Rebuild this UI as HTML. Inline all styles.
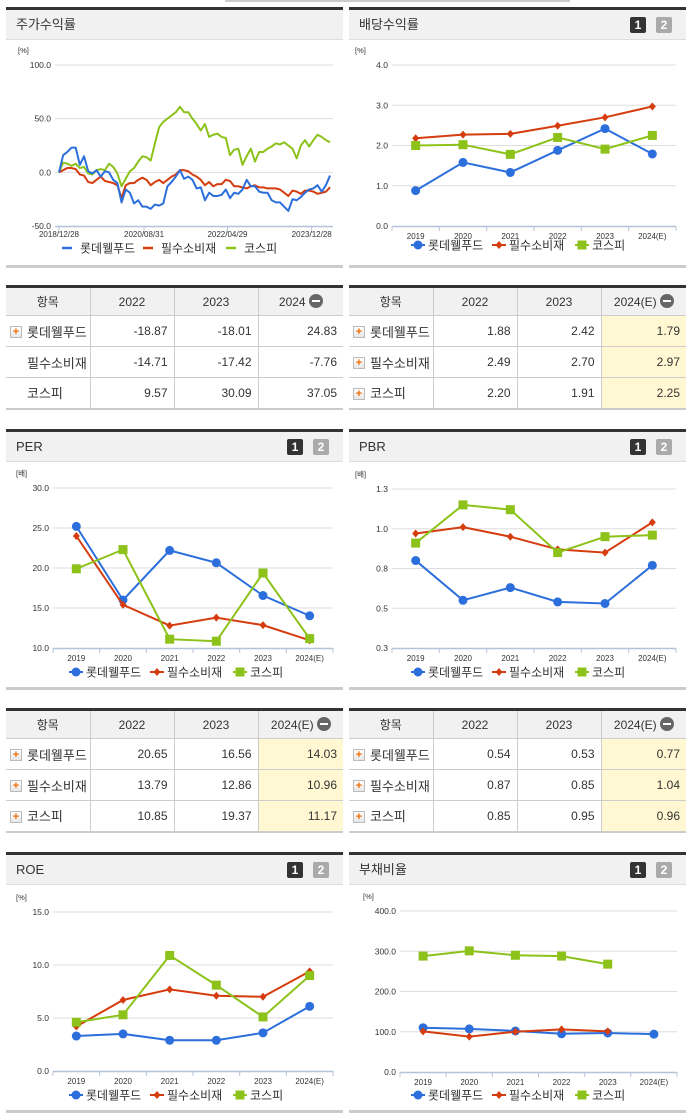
<!DOCTYPE html>
<html><head><meta charset="utf-8">
<style>
*{margin:0;padding:0;box-sizing:border-box}
body{width:691px;height:1115px;background:#fff;position:relative;overflow:hidden;font-family:"Liberation Sans","Noto Sans CJK KR",sans-serif;color:#333}
.panel{position:absolute;width:337px;border-top:3px solid #333;border-bottom:3px solid #ccc}
.hdr{position:absolute;left:0;top:0;width:100%;height:30px;background:#f1f1f1;border-bottom:1px solid #ddd;font-size:13px;line-height:30px;padding-left:10px;color:#333}
.b1,.b2{position:absolute;top:7px;width:16px;height:16px;border-radius:2px;color:#fff;font-weight:bold;font-size:12px;line-height:16px;text-align:center}
.b1{background:#333}.b2{background:#aaa}
svg{position:absolute;overflow:visible}
table{position:absolute;width:337px;border-collapse:collapse;border-top:3px solid #333;border-bottom:2px solid #ccc;font-size:12px}
td,th{border:1px solid #ccc;height:31px}
th{background:#f1f1f1;font-weight:normal;height:29px;font-size:12px}
tr>*:first-child{border-left:none}tr>*:last-child{border-right:none}
td.n{text-align:right;padding-right:6px}
td.l{text-align:left;padding-left:21px;font-size:13px;position:relative}
td.h{background:#fff8d2}
.pl{position:absolute;left:4px;top:10px;width:12px;height:12px;border:1px solid #bbb;background:linear-gradient(#fff,#e6e6e6);color:#f06a00;font-size:11px;line-height:10px;text-align:center;font-weight:bold}
.mi{display:inline-block;width:14px;height:14px;border-radius:7px;background:#666;vertical-align:-2px;margin-left:3px;position:relative}
.mi:after{content:"";position:absolute;left:3px;top:6px;width:8px;height:2px;background:#fff}
</style></head><body>

<div style="position:absolute;left:225px;top:0;width:345px;height:2px;background:#ccc"></div>

<!-- Panel 1 stock return -->
<div class="panel" style="left:6px;top:7px;height:261px">
  <div class="hdr">주가수익률</div>
</div>
<svg id="c1" style="left:6px;top:40px" width="337" height="225" viewBox="6 40 337 225"></svg>

<!-- Panel 2 dividend -->
<div class="panel" style="left:349px;top:7px;height:261px">
  <div class="hdr">배당수익률</div>
  <div class="b1" style="left:281px">1</div>
  <div class="b2" style="left:307px">2</div>
</div>
<svg id="c2" style="left:349px;top:40px" width="337" height="225" viewBox="349 40 337 225"></svg>

<!-- Table 1 -->
<table style="left:6px;top:285px">
<tr><th style="width:84px">항목</th><th style="width:84px">2022</th><th style="width:84px">2023</th><th>2024<span class="mi"></span></th></tr>
<tr><td class="l"><span class="pl">+</span>롯데웰푸드</td><td class="n">-18.87</td><td class="n">-18.01</td><td class="n">24.83</td></tr>
<tr><td class="l">필수소비재</td><td class="n">-14.71</td><td class="n">-17.42</td><td class="n">-7.76</td></tr>
<tr><td class="l">코스피</td><td class="n">9.57</td><td class="n">30.09</td><td class="n">37.05</td></tr>
</table>
<table style="left:349px;top:285px">
<tr><th style="width:84px">항목</th><th style="width:84px">2022</th><th style="width:84px">2023</th><th>2024(E)<span class="mi"></span></th></tr>
<tr><td class="l"><span class="pl">+</span>롯데웰푸드</td><td class="n">1.88</td><td class="n">2.42</td><td class="n h">1.79</td></tr>
<tr><td class="l"><span class="pl">+</span>필수소비재</td><td class="n">2.49</td><td class="n">2.70</td><td class="n h">2.97</td></tr>
<tr><td class="l"><span class="pl">+</span>코스피</td><td class="n">2.20</td><td class="n">1.91</td><td class="n h">2.25</td></tr>
</table>

<!-- PER / PBR -->
<div class="panel" style="left:6px;top:429px;height:261px">
  <div class="hdr">PER</div>
  <div class="b1" style="left:281px">1</div>
  <div class="b2" style="left:307px">2</div>
</div>
<svg id="c3" style="left:6px;top:462px" width="337" height="225" viewBox="6 462 337 225"></svg>
<div class="panel" style="left:349px;top:429px;height:261px">
  <div class="hdr">PBR</div>
  <div class="b1" style="left:281px">1</div>
  <div class="b2" style="left:307px">2</div>
</div>
<svg id="c4" style="left:349px;top:462px" width="337" height="225" viewBox="349 462 337 225"></svg>

<table style="left:6px;top:708px">
<tr><th style="width:84px">항목</th><th style="width:84px">2022</th><th style="width:84px">2023</th><th>2024(E)<span class="mi"></span></th></tr>
<tr><td class="l"><span class="pl">+</span>롯데웰푸드</td><td class="n">20.65</td><td class="n">16.56</td><td class="n h">14.03</td></tr>
<tr><td class="l"><span class="pl">+</span>필수소비재</td><td class="n">13.79</td><td class="n">12.86</td><td class="n h">10.96</td></tr>
<tr><td class="l"><span class="pl">+</span>코스피</td><td class="n">10.85</td><td class="n">19.37</td><td class="n h">11.17</td></tr>
</table>
<table style="left:349px;top:708px">
<tr><th style="width:84px">항목</th><th style="width:84px">2022</th><th style="width:84px">2023</th><th>2024(E)<span class="mi"></span></th></tr>
<tr><td class="l"><span class="pl">+</span>롯데웰푸드</td><td class="n">0.54</td><td class="n">0.53</td><td class="n h">0.77</td></tr>
<tr><td class="l"><span class="pl">+</span>필수소비재</td><td class="n">0.87</td><td class="n">0.85</td><td class="n h">1.04</td></tr>
<tr><td class="l"><span class="pl">+</span>코스피</td><td class="n">0.85</td><td class="n">0.95</td><td class="n h">0.96</td></tr>
</table>

<!-- ROE / Debt -->
<div class="panel" style="left:6px;top:852px;height:261px">
  <div class="hdr">ROE</div>
  <div class="b1" style="left:281px">1</div>
  <div class="b2" style="left:307px">2</div>
</div>
<svg id="c5" style="left:6px;top:885px" width="337" height="225" viewBox="6 885 337 225"></svg>
<div class="panel" style="left:349px;top:852px;height:261px">
  <div class="hdr">부채비율</div>
  <div class="b1" style="left:281px">1</div>
  <div class="b2" style="left:307px">2</div>
</div>
<svg id="c6" style="left:349px;top:885px" width="337" height="225" viewBox="349 885 337 225"></svg>

<script>
// ---- data ----
const seriesNames = ["롯데웰푸드","필수소비재","코스피"];
const years = ["2019","2020","2021","2022","2023","2024(E)"];
// stock return (monthly samples)
const stockTicks = [100,50,0,-50];
const stockTickLabels = ["100.0","50.0","0.0","-50.0"];
const stockDates = ["2018/12/28","2020/08/31","2022/04/29","2023/12/28"];
const stockDateIdx = [0,20.4,40.4,60.6];
const stockLotte = [0,16,19,23,23,7,15,1,-1,2,-4,1,0,-7,-10,-28,-16,-19,-29,-26,-32,-32,-34,-30,-31,-29,-13,-9,-4,2,-6,-4,-7,-15,-14,-26,-19,-22,-22,-21,-16,-24,-19,-20,-16,-7,-13,-13,-18,-19,-19,-26,-28,-28,-32,-36,-25,-26,-23,-19,-16,-15,-12,-18,-12,-3];
const stockStaples = [0,2,4,4,3,-2,-3,-9,-10,-7,-4,-8,-9,-10,-12,-24,-12,-10,-10,-7,-5,-7,-12,-9,-7,-10,-7,-4,-2,2,2,1,-2,-4,-7,-12,-9,-13,-11,-11,-7,-8,-13,-13,-14,-15,-13,-12,-14,-14,-15,-15,-15,-16,-19,-22,-17,-18,-20,-17,-17,-18,-20,-19,-18,-14];
const stockKospi = [0,9,8,6,8,4,5,-1,-2,2,3,2,8,5,-1,-13,-6,1,4,10,15,14,11,27,42,47,50,53,56,61,56,56,50,45,39,45,33,35,36,33,32,16,21,22,7,15,22,10,19,19,22,24,27,26,28,25,22,13,25,30,24,30,35,33,30,28];
// dividend
const divTicks=[4,3,2,1,0];
const divLotte=[0.88,1.58,1.33,1.88,2.42,1.79];
const divStaples=[2.18,2.27,2.29,2.49,2.70,2.97];
const divKospi=[2.00,2.02,1.78,2.20,1.91,2.25];
// PER
const perTicks=[30,25,20,15,10];
const perLotte=[25.2,16.0,22.2,20.65,16.56,14.03];
const perStaples=[24.0,15.4,12.8,13.79,12.86,10.96];
const perKospi=[19.9,22.3,11.1,10.85,19.37,11.17];
// PBR
const pbrTicks=[1.25,1.0,0.75,0.5,0.25];
const pbrTickLabels=["1.3","1.0","0.8","0.5","0.3"];
const pbrLotte=[0.80,0.55,0.63,0.54,0.53,0.77];
const pbrStaples=[0.97,1.01,0.95,0.87,0.85,1.04];
const pbrKospi=[0.91,1.15,1.12,0.85,0.95,0.96];
// ROE
const roeTicks=[15,10,5,0];
const roeLotte=[3.3,3.5,2.9,2.9,3.6,6.1];
const roeStaples=[4.2,6.7,7.7,7.1,7.0,9.4];
const roeKospi=[4.6,5.3,10.9,8.1,5.1,9.0];
// debt ratio
const debtTicks=[400,300,200,100,0];
const debtLotte=[110,107,102,95,97,94];
const debtStaples=[101,88,100,106,101,null];
const debtKospi=[288,301,290,288,268,null];

const COL=["#2c6fdc","#d53c0e","#8cc21a"];
const NS="http://www.w3.org/2000/svg";
function el(svg,tag,a){const e=document.createElementNS(NS,tag);for(const k in a)e.setAttribute(k,a[k]);svg.appendChild(e);return e;}
function txt(svg,x,y,s,size,anchor,fill){const t=el(svg,"text",{x:x,y:y,"font-size":size,"text-anchor":anchor||"start",fill:fill||"#333","font-family":"Liberation Sans, Noto Sans CJK KR, sans-serif"});t.textContent=s;return t;}

function yAxis(svg,c,ticks,labels){
  const ys=v=>c.yb-(v-c.vmin)/(c.vmax-c.vmin)*(c.yb-c.yt);
  ticks.forEach((v,i)=>{
    const y=ys(v);
    if(v!==c.vmin){const g=el(svg,"line",{x1:c.x0,x2:c.x1,y1:y,y2:y,stroke:"#ddd","stroke-width":1});
    
    }
    const t=txt(svg,c.x0-4,y+3,labels?labels[i]:v.toFixed(1),8.5,"end");
    
    
  });
  const u=txt(svg,c.x0-37,c.yt-12,c.unit,7.5,"start");
  
  
  const ax=el(svg,"line",{x1:c.x0,x2:c.x1,y1:c.yb+0.5,y2:c.yb+0.5,stroke:"#b4c4d8","stroke-width":1.5});
  
  
  return ys;
}

function marker(svg,k,x,y){
  let m;
  if(k===0)m=el(svg,"circle",{cx:x,cy:y,r:4.5,fill:COL[0]});
  else if(k===1)m=el(svg,"path",{d:`M${x} ${y-4}L${x+3.5} ${y}L${x} ${y+4}L${x-3.5} ${y}Z`,fill:COL[1]});
  else m=el(svg,"rect",{x:x-4.5,y:y-4.5,width:9,height:9,fill:COL[2]});
  return m;
}

function legend(svg,ox,y,withMarkers){
  const mx=[76,157,240];
  seriesNames.forEach((n,k)=>{
    const X=ox+mx[k];
    if(withMarkers){
      el(svg,"line",{x1:X-7,x2:X+7,y1:y,y2:y,stroke:COL[k],"stroke-width":2});
      const m=marker(svg,k,X,y);
      
      
    } else {
      el(svg,"line",{x1:X-10,x2:X,y1:y,y2:y,stroke:COL[k],"stroke-width":2.5});
    }
    const t=txt(svg,X+(withMarkers?10:8),y+4.5,n,12,"start");
    
    
  });
}

function catChart(id,c,ticks,labels,data){
  const svg=document.getElementById(id);
  const ys=yAxis(svg,c,ticks,labels);
  const n=years.length,bw=(c.x1-c.x0)/n;
  const xs=i=>c.x0+(i+0.5)*bw;
  for(let i=0;i<=n;i++){el(svg,"line",{x1:c.x0+i*bw,x2:c.x0+i*bw,y1:c.yb,y2:c.yb+5,stroke:"#b4c4d8"});}
  years.forEach((y,i)=>{const t=txt(svg,xs(i),c.yb+13,y,8,"middle");
    
    });
  data.forEach((arr,k)=>{
    let pts=[];arr.forEach((v,i)=>{if(v!==null)pts.push([xs(i),ys(v)]);});
    const p=el(svg,"polyline",{points:pts.map(p=>p.join(",")).join(" "),fill:"none",stroke:COL[k],"stroke-width":2});
    
    
    pts.forEach(pt=>{const m=marker(svg,k,pt[0],pt[1]);
      
      });
  });
  legend(svg,c.ox,c.ly,true);
}

// stock chart
(function(){
  const svg=document.getElementById("c1");
  const c={x0:55,x1:333,yt:65,yb:226,vmin:-50,vmax:100,unit:"[%]"};
  const ys=yAxis(svg,c,stockTicks,stockTickLabels);
  const xs=i=>59+i*4.17;
  stockDateIdx.forEach((d,i)=>{
    const x=xs(d);
    el(svg,"line",{x1:x,x2:x,y1:c.yb,y2:c.yb+7,stroke:"#b4c4d8"});
    const t=txt(svg,x,c.yb+11,stockDates[i],8,"middle");
    
    
  });
  [stockKospi,stockStaples,stockLotte].forEach((arr,j)=>{
    const k=[2,1,0][j];
    const p=el(svg,"polyline",{points:arr.map((v,i)=>xs(i)+","+ys(v)).join(" "),fill:"none",stroke:COL[k],"stroke-width":2,"stroke-linejoin":"round"});
    
    
  });
  legend(svg,-4,248,false);
})();

catChart("c2",{x0:392,x1:676,yt:65,yb:226,vmin:0,vmax:4,unit:"[%]",ox:342,ly:245},divTicks,null,[divLotte,divStaples,divKospi]);
catChart("c3",{x0:53,x1:333,yt:488,yb:648,vmin:10,vmax:30,unit:"[배]",ox:0,ly:672},perTicks,null,[perLotte,perStaples,perKospi]);
catChart("c4",{x0:392,x1:676,yt:489,yb:648,vmin:0.25,vmax:1.25,unit:"[배]",ox:342,ly:672},pbrTicks,pbrTickLabels,[pbrLotte,pbrStaples,pbrKospi]);
catChart("c5",{x0:53,x1:333,yt:912,yb:1071,vmin:0,vmax:15,unit:"[%]",ox:0,ly:1095},roeTicks,null,[roeLotte,roeStaples,roeKospi]);
catChart("c6",{x0:400,x1:677,yt:911,yb:1072,vmin:0,vmax:400,unit:"[%]",ox:342,ly:1095},debtTicks,null,[debtLotte,debtStaples,debtKospi]);
</script>
</body></html>
